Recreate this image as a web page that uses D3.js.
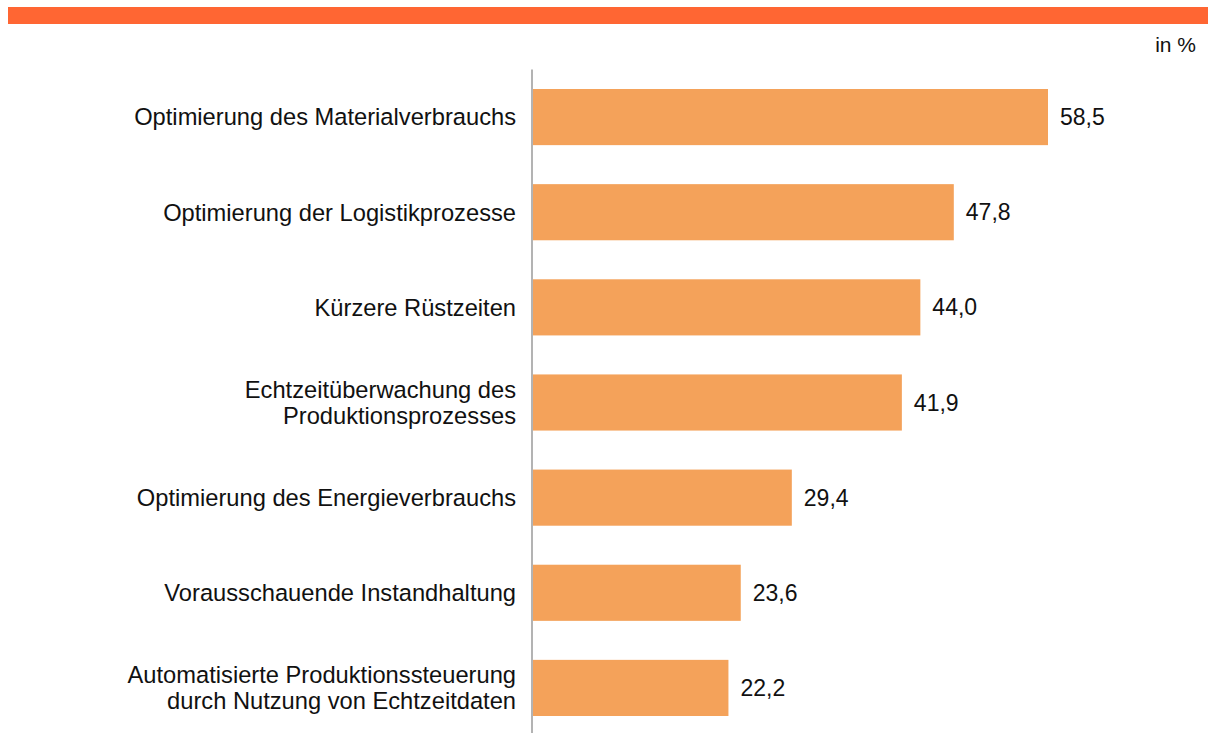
<!DOCTYPE html>
<html>
<head>
<meta charset="utf-8">
<script src="https://cdn.jsdelivr.net/npm/d3@7"></script>
<style>
  html, body { margin: 0; padding: 0; background: #ffffff; }
  svg { display: block; font-family: "Liberation Sans", Arial, sans-serif; }
</style>
</head>
<body>
<svg id="chart" width="1208" height="733"></svg>
<script>
// Categories (each entry is a list of label lines) and their shares in percent
const categories = [
  ["Optimierung des Materialverbrauchs"],
  ["Optimierung der Logistikprozesse"],
  ["Kürzere Rüstzeiten"],
  ["Echtzeitüberwachung des", "Produktionsprozesses"],
  ["Optimierung des Energieverbrauchs"],
  ["Vorausschauende Instandhaltung"],
  ["Automatisierte Produktionssteuerung", "durch Nutzung von Echtzeitdaten"]
];
const values = [58.5, 47.8, 44.0, 41.9, 29.4, 23.6, 22.2];
const unitLabel = "in %";

const svg = d3.select("#chart");
const W = 1208;

// Orange header band
svg.append("rect")
  .attr("x", 8).attr("y", 7)
  .attr("width", W - 8).attr("height", 17)
  .attr("fill", "#FF6633");

// Unit label
svg.append("text")
  .attr("x", 1196).attr("y", 52)
  .attr("text-anchor", "end")
  .attr("font-size", 21)
  .attr("fill", "#111")
  .text(unitLabel);

const x0 = 533;
const x = d3.scaleLinear().domain([0, 58.5]).range([x0, 1048]);
const idx = d3.range(categories.length);
const y = d3.scaleBand().domain(idx).range([69.5, 735.5])
  .paddingInner(0.41).paddingOuter(0.205);

const fmt = v => d3.format(".1f")(v).replace(".", ",");

// Bars
svg.append("g").selectAll("rect")
  .data(idx).join("rect")
  .attr("x", x(0))
  .attr("y", i => y(i))
  .attr("width", i => x(values[i]) - x(0))
  .attr("height", y.bandwidth())
  .attr("fill", "#F4A25A");

// Value labels
svg.append("g").selectAll("text")
  .data(idx).join("text")
  .attr("x", i => x(values[i]) + 12)
  .attr("y", i => y(i) + y.bandwidth() / 2)
  .attr("dy", "0.35em")
  .attr("font-size", 23)
  .attr("fill", "#111")
  .text(i => fmt(values[i]));

// Category labels
const lineH = 26;
const labels = svg.append("g").selectAll("text")
  .data(idx).join("text")
  .attr("text-anchor", "end")
  .attr("font-size", 23.7)
  .attr("fill", "#111");
labels.each(function(i) {
  const lines = categories[i];
  const cy = y(i) + y.bandwidth() / 2;
  const startY = cy - (lines.length - 1) * lineH / 2;
  d3.select(this).selectAll("tspan")
    .data(lines).join("tspan")
    .attr("x", 516)
    .attr("y", (d, k) => startY + k * lineH)
    .attr("dy", "0.35em")
    .text(d => d);
});

// Vertical axis line
svg.append("line")
  .attr("x1", 532).attr("x2", 532)
  .attr("y1", y.range()[0]).attr("y2", y.range()[1])
  .attr("stroke", "#9a9a9a")
  .attr("stroke-width", 1.5);
</script>
</body>
</html>
